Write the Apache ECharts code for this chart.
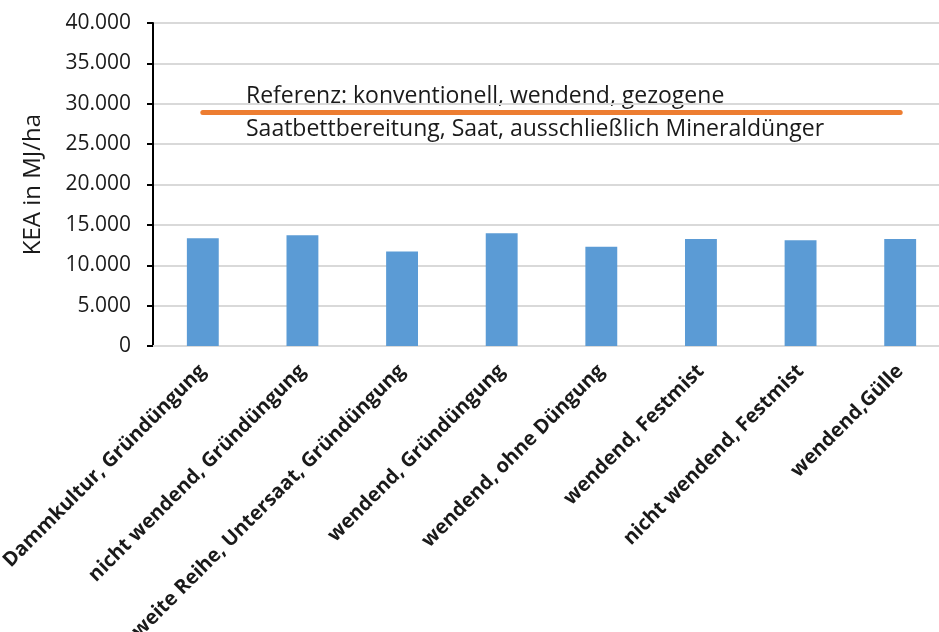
<!DOCTYPE html>
<html>
<head>
<meta charset="utf-8">
<script src="https://cdn.jsdelivr.net/npm/echarts@6/dist/echarts.min.js"></script>
<style>
html,body{margin:0;padding:0;background:#fff;}
#chart{width:939px;height:632px;}
</style>
</head>
<body>
<div id="chart"></div>
<script>
const categories = ['Dammkultur, Gründüngung','nicht wendend, Gründüngung','weite Reihe, Untersaat, Gründüngung','wendend, Gründüngung','wendend, ohne Düngung','wendend, Festmist','nicht wendend, Festmist','wendend,Gülle'];
const kea = [13350, 13700, 11700, 13950, 12300, 13250, 13100, 13250];
const referenceValue = 28900;
const referenceText = ['Referenz: konventionell, wendend, gezogene', 'Saatbettbereitung, Saat, ausschließlich Mineraldünger'];
const yAxisName = 'KEA in MJ/ha';

function fmt(v){
  if (v === 0) return '0';
  const s = String(Math.round(v));
  return s.replace(/\B(?=(\d{3})+(?!\d))/g, '.');
}

const font = '"Open Sans", "Noto Sans", sans-serif';
const chart = echarts.init(document.getElementById('chart'), null, {renderer:'canvas'});
chart.setOption({
  animation: false,
  backgroundColor: '#fff',
  textStyle: {fontFamily: font},
  grid: {left: 153, right: -11, top: 23, bottom: 286, containLabel: false, outerBoundsMode: 'none'},
  xAxis: {
    type: 'category',
    data: categories,
    axisLine: {show: true, lineStyle: {color: '#d9d9d9', width: 2}},
    axisTick: {show: false},
    axisLabel: {rotate: 45, margin: 22, fontSize: 20, fontWeight: 'bold', color: '#1a1a1a', fontFamily: font, interval: 0}
  },
  yAxis: {
    type: 'value',
    min: 0, max: 40000, interval: 5000,
    name: yAxisName,
    nameLocation: 'middle',
    nameGap: 108,
    nameTextStyle: {fontSize: 24, color: '#1a1a1a', fontFamily: font},
    axisLine: {show: true, lineStyle: {color: '#000', width: 2}},
    axisTick: {show: true, inside: false, length: 6, lineStyle: {color: '#000', width: 2}},
    axisLabel: {margin: 22, fontSize: 21, color: '#1a1a1a', fontFamily: font, formatter: fmt},
    splitLine: {show: true, lineStyle: {color: '#d9d9d9', width: 2}}
  },
  series: [{
    type: 'bar',
    data: kea,
    barWidth: '32%',
    itemStyle: {color: '#5b9bd5'},
    markLine: {
      silent: true,
      symbol: ['none','none'],
      label: {show: false},
      lineStyle: {color: '#ed7d31', width: 5, type: 'solid', cap: 'round'},
      data: [[{coord: [0, referenceValue]}, {coord: [categories.length - 1, referenceValue]}]]
    }
  }],
  graphic: [{
    type: 'text',
    left: 246,
    top: 80,
    style: {
      text: referenceText.join('\n'),
      font: '23px ' + font,
      fill: '#1a1a1a',
      lineHeight: 33
    }
  }]
});
</script>
</body>
</html>
